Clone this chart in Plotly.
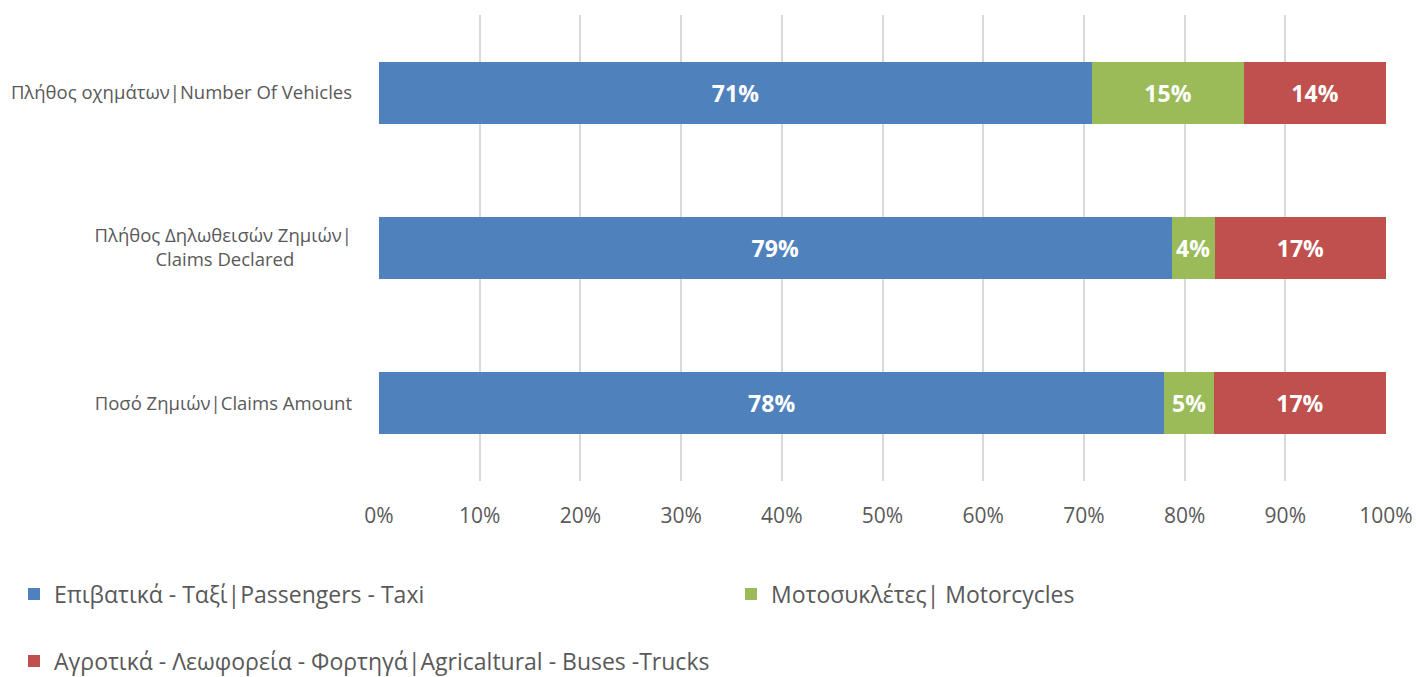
import plotly.graph_objects as go

categories = [
    "Πλήθος οχημάτων|Number Of Vehicles",
    "Πλήθος Δηλωθεισών Ζημιών|<br>Claims Declared" + "\u00a0" * 12,
    "Ποσό Ζημιών|Claims Amount",
]
passengers = [70.8, 78.7, 78.0]
motorcycles = [15.1, 4.3, 4.9]
agricultural = [14.1, 17.0, 17.1]
x_ticks = [0, 10, 20, 30, 40, 50, 60, 70, 80, 90, 100]

series = [
    ("Επιβατικά - Ταξί|Passengers - Taxi", passengers, "#4F81BD", "legend"),
    ("Μοτοσυκλέτες| Motorcycles", motorcycles, "#9BBB59", "legend2"),
    ("Αγροτικά - Λεωφορεία - Φορτηγά|Agricaltural - Buses -Trucks", agricultural, "#C0504D", "legend3"),
]

font = "Open Sans, sans-serif"
grey = "#595959"

fig = go.Figure()
for name, vals, color, leg in series:
    fig.add_trace(go.Bar(
        y=categories,
        x=vals,
        name=name,
        orientation="h",
        marker=dict(color=color, line=dict(width=0)),
        text=vals,
        texttemplate="%{x:.0f}%",
        textposition="inside",
        insidetextanchor="middle",
        textangle=0,
        constraintext="none",
        textfont=dict(family=font, size=23, color="white", weight="bold"),
        legend=leg,
        showlegend=True,
        hoverinfo="skip",
    ))


def legend_box(x_px, y_px):
    return dict(
        xref="container", yref="container",
        x=x_px / 1416, y=1 - y_px / 677,
        xanchor="left", yanchor="middle",
        orientation="h",
        font=dict(size=23, color=grey),
        itemclick=False,
    )


fig.update_layout(
    showlegend=True,
    barmode="stack",
    bargap=0.6,
    width=1416,
    height=677,
    margin=dict(l=379, r=30, t=15, b=196, autoexpand=False),
    paper_bgcolor="white",
    plot_bgcolor="white",
    font=dict(family=font, color=grey),
    xaxis=dict(
        range=[0, 100],
        tickvals=x_ticks,
        ticktext=[f"{t}%" for t in x_ticks],
        showgrid=True,
        gridcolor="#D9D9D9",
        gridwidth=2,
        zeroline=False,
        showline=False,
        tickfont=dict(size=21, color=grey),
        ticklabelstandoff=20,
        automargin=False,
    ),
    yaxis=dict(
        categoryorder="array",
        categoryarray=categories[::-1],
        showgrid=False,
        zeroline=False,
        showline=False,
        tickfont=dict(size=18.5, color=grey),
        ticklabelstandoff=26,
        automargin=False,
    ),
    legend=legend_box(14, 594),
    legend2=legend_box(731, 594),
    legend3=legend_box(14, 661),
)

# the page body has a default 8px margin; drop it so the figure fills the window
fig.write_html(
    "out.html",
    config={"displayModeBar": False},
    post_script="document.body.style.margin='0';",
)
